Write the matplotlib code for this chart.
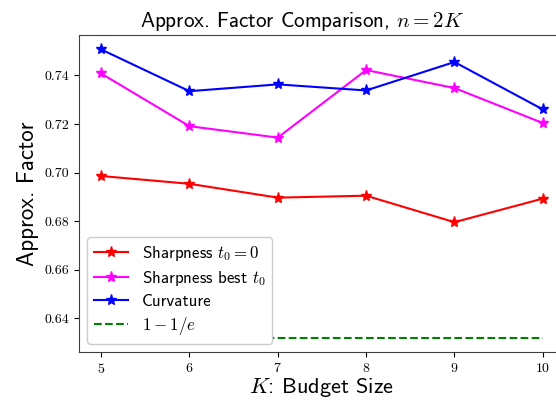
import numpy as np
import matplotlib
matplotlib.use("Agg")
import matplotlib.pyplot as plt

plt.rcParams["mathtext.fontset"] = "cm"
plt.rcParams["axes.formatter.use_mathtext"] = True

# budget sizes and approximation factors
budgets = [5, 6, 7, 8, 9, 10]
sharp_t0 = [0.6986, 0.6954, 0.6897, 0.6905, 0.6796, 0.6893]
sharp_best = [0.7408, 0.7191, 0.7144, 0.7422, 0.7348, 0.7204]
curvature = [0.7507, 0.7335, 0.7363, 0.7338, 0.7455, 0.7260]
bound = 1 - 1 / np.e

fig = plt.figure(figsize=(5.56, 4.03), dpi=100)
ax = fig.add_axes([0.142, 0.1266, 0.874, 0.7866])

ax.plot(budgets, sharp_t0, color="red", marker="*", markersize=8, lw=1.5,
        label=r"Sharpness $t_0 = 0$")
ax.plot(budgets, sharp_best, color="magenta", marker="*", markersize=8, lw=1.5,
        label=r"Sharpness best $t_0$")
ax.plot(budgets, curvature, color="blue", marker="*", markersize=8, lw=1.5,
        label="Curvature")
ax.plot(budgets, [bound] * len(budgets), color="green", ls="--", lw=1.5,
        label=r"$1 - 1/e$")

ax.set_xticks(budgets)
ax.set_yticks([0.64, 0.66, 0.68, 0.70, 0.72, 0.74])
ax.set_yticklabels(["0.64", "0.66", "0.68", "0.70", "0.72", "0.74"])
for lbl in ax.get_xticklabels() + ax.get_yticklabels():
    lbl.set_fontfamily("cmr10")
    lbl.set_fontsize(10)

for sp in ax.spines.values():
    sp.set_color("0.25")

ax.set_title(r"Approx. Factor Comparison, $n = 2K$", fontsize=15.2,
             family="cmss10", x=0.459)
ax.set_xlabel(r"$K$: Budget Size", fontsize=16, family="cmss10", labelpad=0)
ax.set_ylabel("Approx. Factor", fontsize=16.5, family="cmss10")

ax.legend(loc="lower left", prop={"family": "cmss10", "size": 12.2},
          handlelength=2.0, borderaxespad=0.5, labelspacing=0.35,
          framealpha=1.0)

fig.savefig("out.png", dpi=100)
